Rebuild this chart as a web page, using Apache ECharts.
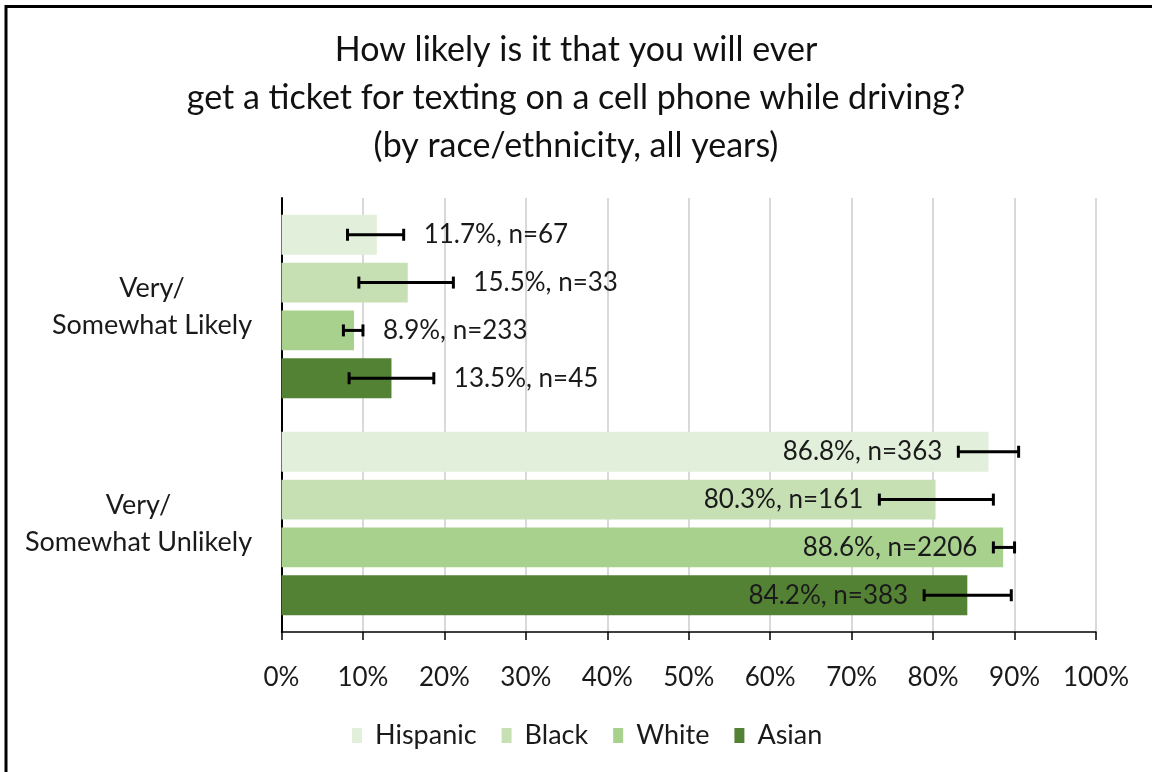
<!DOCTYPE html>
<html>
<head>
<meta charset="utf-8">
<script src="https://cdn.jsdelivr.net/npm/echarts@6/dist/echarts.min.js"></script>
<style>
html,body{margin:0;padding:0;background:#fff;}
#chart{width:1152px;height:772px;}
</style>
</head>
<body>
<div id="chart"></div>
<script>
const titleText = "How likely is it that you will ever\nget a ticket for texting on a cell phone while driving?\n(by race/ethnicity, all years)";
const categories = ["Very/\nSomewhat Likely", "Very/\nSomewhat Unlikely"];
const seriesNames = ["Hispanic", "Black", "White", "Asian"];
const colors = ["#E2EFDA", "#C6E0B4", "#A9D18E", "#548235"];
// values in percent, [Likely, Unlikely]
const hispanic = [11.7, 86.8];
const black = [15.5, 80.3];
const white = [8.9, 88.6];
const asian = [13.5, 84.2];
// sample sizes
const nHispanic = [67, 363];
const nBlack = [33, 161];
const nWhite = [233, 2206];
const nAsian = [45, 383];
// error bar bounds [low, high] per category
const errHispanic = [[8.1, 15.0], [83.1, 90.5]];
const errBlack = [[9.5, 21.1], [73.4, 87.4]];
const errWhite = [[7.6, 10.0], [87.4, 90.0]];
const errAsian = [[8.3, 18.7], [78.9, 89.6]];
const xTicks = [0, 10, 20, 30, 40, 50, 60, 70, 80, 90, 100];

const values = [hispanic, black, white, asian];
const ns = [nHispanic, nBlack, nWhite, nAsian];
const errs = [errHispanic, errBlack, errWhite, errAsian];

const FONT = "Lato";
const BAR_GAP = 0.2;
const CAT_GAP = 0.155;
const YLABEL_SIZE = 27;

// measure category label line widths so lines can be centred within a right-aligned block
const mctx = document.createElement('canvas').getContext('2d');
mctx.font = YLABEL_SIZE + 'px ' + FONT;
const catRich = {};
categories.forEach((c, i) => {
  const w = Math.max(...c.split('\n').map(l => mctx.measureText(l).width));
  catRich['c' + i] = { width: Math.ceil(w) + 2, align: 'center', fontFamily: FONT, fontSize: YLABEL_SIZE, color: '#1a1a1a', lineHeight: 37 };
});

const chart = echarts.init(document.getElementById('chart'));

const barSeries = seriesNames.map((name, i) => ({
  name: name,
  type: 'bar',
  data: values[i],
  itemStyle: { color: colors[i] },
  barGap: (BAR_GAP * 100) + '%',
  barCategoryGap: (CAT_GAP * 100) + '%',
  z: 2
}));

const errSeries = seriesNames.map((name, si) => ({
  type: 'custom',
  name: name,
  z: 5,
  data: categories.map((c, ci) => [ci, errs[si][ci][0], errs[si][ci][1], values[si][ci], ns[si][ci]]),
  encode: { x: [1, 2], y: 0 },
  renderItem: function (params, api) {
    const ci = api.value(0);
    const lo = api.value(1), hi = api.value(2), v = api.value(3), n = api.value(4);
    const band = api.size([0, 1])[1];
    const count = seriesNames.length;
    const usable = band * (1 - CAT_GAP);
    const bw = usable / (count + (count - 1) * BAR_GAP);
    const total = count * bw + (count - 1) * bw * BAR_GAP;
    const center = api.coord([0, ci])[1];
    const y = center - total / 2 + si * bw * (1 + BAR_GAP) + bw / 2;
    const x0 = api.coord([lo, ci])[0];
    const x1 = api.coord([hi, ci])[0];
    const cap = 6;
    const st = { stroke: '#000', lineWidth: 3 };
    const label = v.toFixed(1) + '%, n=' + n;
    const small = v < 50;
    return {
      type: 'group',
      children: [
        { type: 'line', shape: { x1: x0, y1: y, x2: x1, y2: y }, style: st },
        { type: 'line', shape: { x1: x0, y1: y - cap, x2: x0, y2: y + cap }, style: st },
        { type: 'line', shape: { x1: x1, y1: y - cap, x2: x1, y2: y + cap }, style: st },
        {
          type: 'text',
          x: small ? x1 + 20 : x0 - 16,
          y: y,
          style: {
            text: label,
            fill: '#1a1a1a',
            font: '26px ' + FONT,
            align: small ? 'left' : 'right',
            verticalAlign: 'middle'
          }
        }
      ]
    };
  }
}));

chart.setOption({
  backgroundColor: '#fff',
  animation: false,
  title: {
    text: titleText,
    left: 'center',
    top: 21,
    textStyle: { fontFamily: FONT, fontSize: 34, fontWeight: 'normal', color: '#111', lineHeight: 48 }
  },
  legend: {
    data: seriesNames,
    bottom: 18,
    left: 347,
    icon: 'rect',
    itemWidth: 10,
    itemHeight: 15,
    itemGap: 25,
    textStyle: { fontFamily: FONT, fontSize: 27, color: '#1a1a1a', padding: [0, 0, 0, 8] }
  },
  grid: { left: 281.5, right: 56, top: 198, bottom: 140, containLabel: false },
  xAxis: {
    type: 'value',
    min: 0,
    max: 100,
    interval: 10,
    axisLine: { show: true, lineStyle: { color: '#000', width: 1.5 } },
    axisTick: { show: true, length: 8, lineStyle: { color: '#000', width: 1.5 } },
    axisLabel: {
      fontFamily: FONT, fontSize: 26, color: '#1a1a1a', margin: 33,
      formatter: v => xTicks.includes(v) ? v + '%' : ''
    },
    splitLine: { show: true, lineStyle: { color: '#D9D9D9', width: 2 } }
  },
  yAxis: {
    type: 'category',
    data: categories,
    inverse: true,
    axisLine: { show: true, lineStyle: { color: '#000', width: 2 } },
    axisTick: { show: false },
    axisLabel: {
      fontFamily: FONT, fontSize: YLABEL_SIZE, color: '#1a1a1a', align: 'right',
      margin: 28, lineHeight: 37,
      formatter: (value, index) => value.split('\n').map(l => '{c' + index + '|' + l + '}').join('\n'),
      rich: catRich
    }
  },
  series: barSeries.concat(errSeries),
  graphic: [
    { type: 'line', shape: { x1: 6, y1: 6.5, x2: 1152, y2: 6.5 }, style: { stroke: '#000', lineWidth: 3 } },
    { type: 'line', shape: { x1: 6, y1: 5, x2: 6, y2: 772 }, style: { stroke: '#000', lineWidth: 3 } }
  ]
});
</script>
</body>
</html>
